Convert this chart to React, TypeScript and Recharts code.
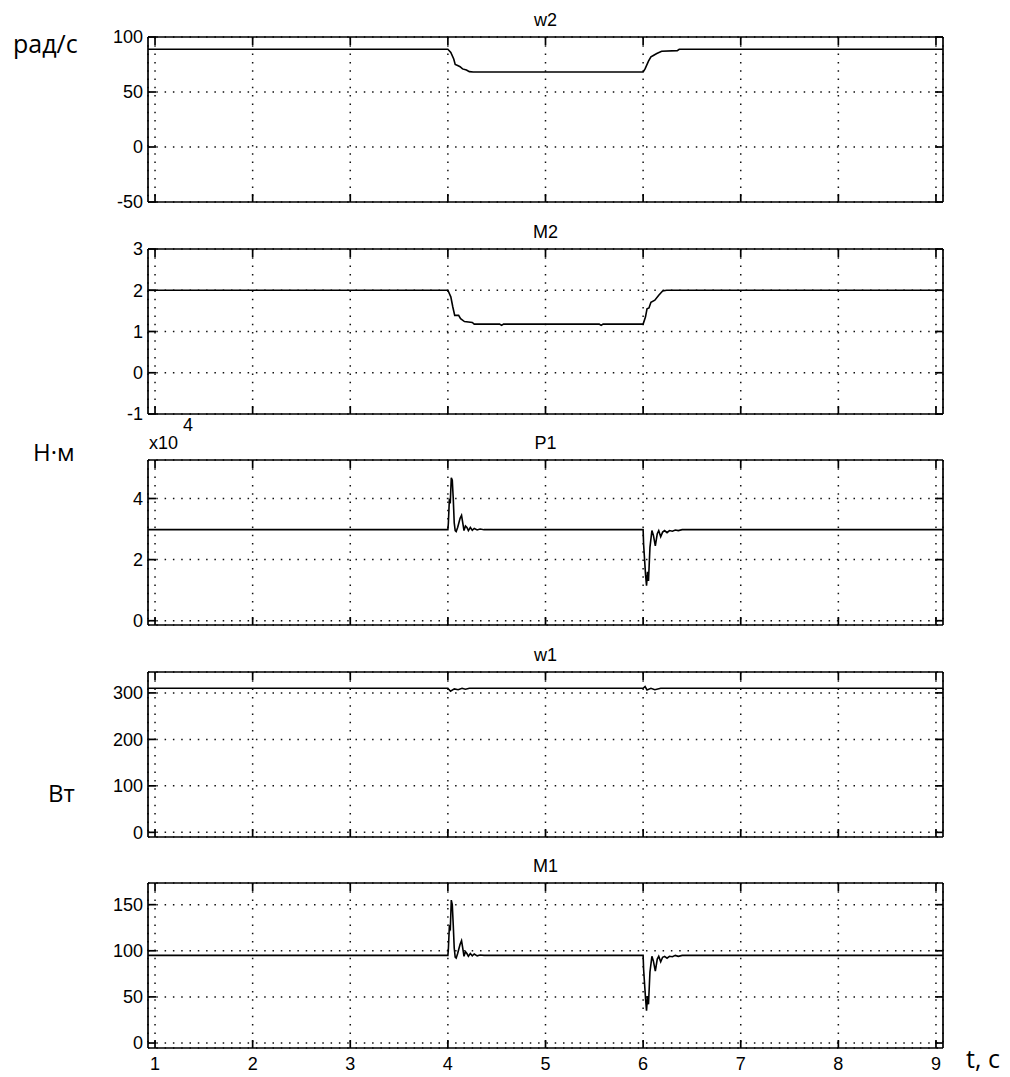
import React from "react";
import { LineChart, Line, XAxis, YAxis, CartesianGrid } from "recharts";

// ---------- data ----------
const X_DOMAIN: [number, number] = [0.928, 9.072];
const X_TICKS = [1, 2, 3, 4, 5, 6, 7, 8, 9];

const w2T = [0.928, 4.0, 4.03, 4.06, 4.075, 4.1, 4.125, 4.15, 4.19, 4.22, 4.26, 6.0, 6.02, 6.055, 6.08, 6.1, 6.14, 6.19, 6.35, 6.37, 9.072];
const w2V = [88.8, 88.8, 86, 80, 75, 74, 73, 71, 70, 68.5, 68.2, 68.2, 71, 78, 82, 83, 85, 87, 87.6, 88.8, 88.8];
const w2Ticks = [-50, 0, 50, 100];

const m2T = [0.928, 4.0, 4.03, 4.05, 4.07, 4.11, 4.13, 4.17, 4.25, 4.27, 4.53, 4.55, 4.57, 5.55, 5.57, 5.59, 6.0, 6.024, 6.04, 6.06, 6.08, 6.12, 6.16, 6.2, 6.24, 9.072];
const m2V = [2.0, 2.0, 1.84, 1.6, 1.39, 1.39, 1.31, 1.24, 1.22, 1.18, 1.18, 1.15, 1.18, 1.18, 1.15, 1.18, 1.18, 1.35, 1.55, 1.57, 1.71, 1.76, 1.88, 1.98, 2.0, 2.0];
const m2Ticks = [-1, 0, 1, 2, 3];

const p1T = [0.928, 4.0, 4.005, 4.015, 4.025, 4.035, 4.045, 4.055, 4.065, 4.075, 4.085, 4.1, 4.125, 4.14, 4.155, 4.165, 4.18, 4.195, 4.21, 4.23, 4.25, 4.27, 4.3, 4.33, 4.37,
  6.0, 6.005, 6.015, 6.025, 6.035, 6.045, 6.055, 6.07, 6.09, 6.105, 6.125, 6.145, 6.16, 6.18, 6.2, 6.22, 6.245, 6.27, 6.3, 6.33, 6.36, 6.4, 9.072];
const p1V = [29800, 29800, 32000, 39500, 39000, 46800, 46000, 40000, 32000, 29500, 29200, 30500, 33500, 34500, 31500, 29500, 31000, 30500, 29500, 30500, 29600, 30200, 29700, 30000, 29800,
  29800, 25000, 20000, 15000, 11500, 16000, 13000, 24000, 29500, 28000, 24500, 28500, 29500, 27500, 29000, 29500, 28800, 29500, 29300, 29700, 29500, 29800, 29800];
const p1Ticks = [0, 20000, 40000];

const w1T = [0.928, 4.0, 4.027, 4.066, 4.105, 4.145, 4.18, 4.22, 6.0, 6.02, 6.04, 6.08, 6.12, 6.16, 6.18, 9.072];
const w1V = [310, 310, 303.6, 308.6, 307, 310, 308, 310, 310, 313.6, 306.4, 310, 307, 309, 310, 310];
const w1Ticks = [0, 100, 200, 300];

const m1T = [0.928, 4.0, 4.005, 4.015, 4.025, 4.035, 4.045, 4.055, 4.065, 4.075, 4.085, 4.1, 4.125, 4.14, 4.155, 4.165, 4.18, 4.195, 4.21, 4.23, 4.25, 4.27, 4.3, 4.33, 4.37,
  6.0, 6.005, 6.015, 6.025, 6.035, 6.045, 6.055, 6.07, 6.09, 6.105, 6.125, 6.145, 6.16, 6.18, 6.2, 6.22, 6.245, 6.27, 6.3, 6.33, 6.36, 6.4, 9.072];
const m1V = [95, 95, 102, 126, 124, 155, 150, 128, 103, 93, 92, 97, 107, 111, 101, 94, 99, 97, 94, 97, 94.5, 96.5, 94.5, 95.5, 95,
  95, 80, 64, 48, 35, 51, 42, 77, 94, 89, 78, 91, 94, 88, 93, 94, 92, 94, 93.5, 95, 94, 95, 95];
const m1Ticks = [0, 50, 100, 150];

const titles = ["w2", "M2", "P1", "w1", "M1"];

// ---------- layout ----------
const PLOT_LEFT = 149;
const PLOT_RIGHT = 942;
const PLOT_H = 163;
const TOPS = [38, 250, 461, 673, 884];
const TICK = 8;
const MT = 20;
const MB = 34;
const FONT = "'Liberation Sans', Arial, Helvetica, sans-serif";
const FONT2 = "'Open Sans', 'Noto Sans', sans-serif";

const zip = (t: number[], v: number[]) => t.map((x, i) => ({ t: x, v: v[i] }));

const EmptyTick = () => <g />;

const LeftTick = (props: any) => {
  const { x, y, payload, fmt } = props;
  return (
    <text x={x - TICK - 5} y={y} dy="0.36em" textAnchor="end" fontFamily={FONT} fontSize={18} fill="#000">
      {fmt ? fmt(payload.value) : payload.value}
    </text>
  );
};

const BottomTick = (props: any) => {
  const { x, y, payload } = props;
  return (
    <text x={x} y={y + TICK + 22} textAnchor="middle" fontFamily={FONT} fontSize={18} fill="#000">
      {payload.value}
    </text>
  );
};

type PanelProps = {
  data: { t: number; v: number }[];
  domain: [number, number];
  ticks: number[];
  top: number;
  fmt?: (v: number) => string;
  showX?: boolean;
};

const axisStyle = { stroke: "#000", strokeWidth: 1.7 };

function Panel({ data, domain, ticks, top, fmt, showX }: PanelProps) {
  return (
    <div style={{ position: "absolute", left: 0, top: top - MT }}>
      <LineChart
        width={1010}
        height={PLOT_H + MT + MB}
        data={data}
        margin={{ top: MT - 1, right: 1010 - PLOT_RIGHT - 1, bottom: MB - 1, left: PLOT_LEFT - 1 }}
        style={{ overflow: "visible" }}
      >
        <CartesianGrid
          xAxisId="b"
          yAxisId="l"
          stroke="#111"
          strokeWidth={1.5}
          strokeDasharray="1.5 6.8"
        />
        <XAxis
          xAxisId="b"
          dataKey="t"
          type="number"
          domain={X_DOMAIN}
          ticks={X_TICKS}
          interval={0}
          allowDataOverflow
          orientation="bottom"
          mirror
          height={1}
          tickSize={TICK}
          tickMargin={0}
          axisLine={axisStyle}
          tickLine={axisStyle}
          tick={showX ? BottomTick : EmptyTick}
        />
        <XAxis
          xAxisId="t"
          dataKey="t"
          type="number"
          domain={X_DOMAIN}
          ticks={X_TICKS}
          interval={0}
          allowDataOverflow
          orientation="top"
          mirror
          height={1}
          tickSize={TICK}
          tickMargin={0}
          axisLine={axisStyle}
          tickLine={axisStyle}
          tick={EmptyTick}
        />
        <YAxis
          yAxisId="l"
          type="number"
          domain={domain}
          ticks={ticks}
          interval={0}
          allowDataOverflow
          orientation="left"
          mirror
          width={1}
          tickSize={TICK}
          tickMargin={0}
          axisLine={axisStyle}
          tickLine={axisStyle}
          tick={(p: any) => <LeftTick {...p} fmt={fmt} />}
        />
        <YAxis
          yAxisId="r"
          type="number"
          domain={domain}
          ticks={ticks}
          interval={0}
          allowDataOverflow
          orientation="right"
          mirror
          width={1}
          tickSize={TICK}
          tickMargin={0}
          axisLine={axisStyle}
          tickLine={axisStyle}
          tick={EmptyTick}
        />
        <Line
          xAxisId="b"
          yAxisId="l"
          type="linear"
          dataKey="v"
          stroke="#000"
          strokeWidth={1.6}
          dot={false}
          activeDot={false}
          isAnimationActive={false}
        />
      </LineChart>
    </div>
  );
}

export default function App() {
  const cx = (PLOT_LEFT + PLOT_RIGHT) / 2;
  return (
    <div style={{ position: "absolute", left: 0, top: 0, width: 1010, height: 1077, background: "#fff" }}>
      <Panel data={zip(w2T, w2V)} domain={[-50, 100]} ticks={w2Ticks} top={TOPS[0]} />
      <Panel data={zip(m2T, m2V)} domain={[-1, 3]} ticks={m2Ticks} top={TOPS[1]} />
      <Panel data={zip(p1T, p1V)} domain={[-1400, 52600]} ticks={p1Ticks} top={TOPS[2]} fmt={(v) => String(v / 10000)} />
      <Panel data={zip(w1T, w1V)} domain={[-10, 345]} ticks={w1Ticks} top={TOPS[3]} />
      <Panel data={zip(m1T, m1V)} domain={[-5.4, 173.5]} ticks={m1Ticks} top={TOPS[4]} showX />
      <svg width={1010} height={1077} style={{ position: "absolute", left: 0, top: 0, pointerEvents: "none" }}>
        {titles.map((s, i) => (
          <text key={s} x={cx} y={TOPS[i] - 12} textAnchor="middle" fontFamily={FONT} fontSize={18} fill="#000">
            {s}
          </text>
        ))}
        <text x={149} y={449} fontFamily={FONT} fontSize={18} fill="#000">x10</text>
        <text x={183} y={431} fontFamily={FONT} fontSize={18} fill="#000">4</text>
        <text x={13} y={53} fontFamily={FONT2} fontSize={25} fill="#000">рад/с</text>
        <text x={33} y={461} fontFamily={FONT2} fontSize={24} fill="#000">Н·м</text>
        <text x={48} y={802} fontFamily={FONT2} fontSize={24} fill="#000">Вт</text>
        <text x={966} y={1068} fontFamily={FONT2} fontSize={25} fill="#000">t, с</text>
      </svg>
    </div>
  );
}
